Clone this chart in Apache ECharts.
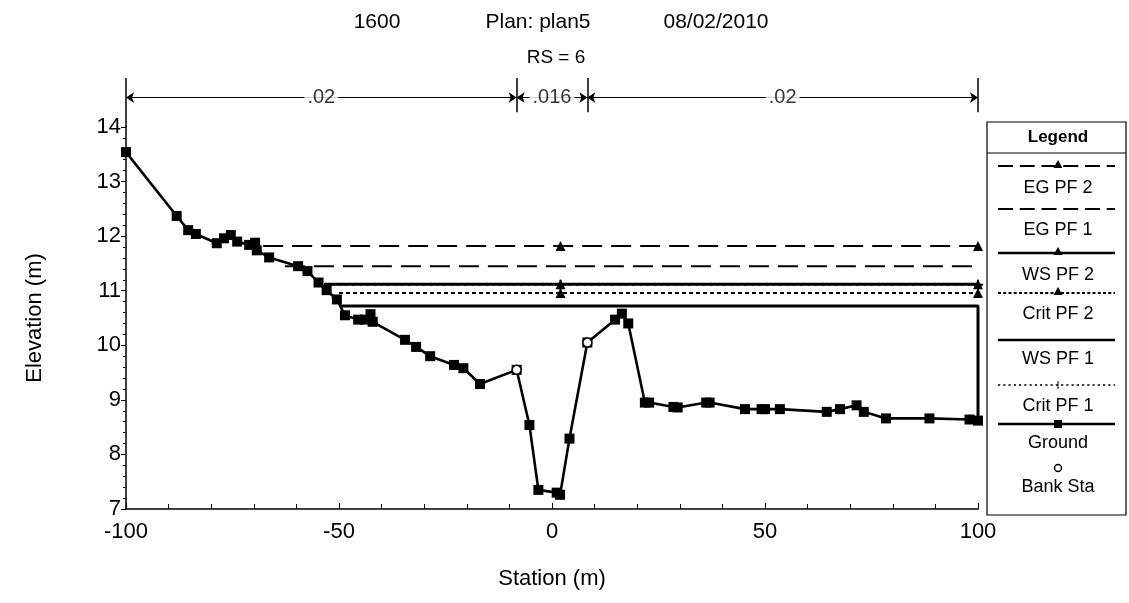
<!DOCTYPE html>
<html><head><meta charset="utf-8">
<script src="https://cdn.jsdelivr.net/npm/echarts@6/dist/echarts.min.js"></script>
<style>html,body{margin:0;padding:0;background:#fff}#c{width:1129px;height:603px}</style>
</head><body><div id="c"></div>
<script>
// ---- data ----
const groundStation = [-100, -88.1, -85.4, -83.6, -78.7, -77.0, -75.4, -73.9, -71.1, -69.7, -69.3, -66.4, -59.6, -57.4, -54.8, -52.9, -50.5, -48.6, -45.5, -43.9, -42.6, -42.1, -34.5, -31.9, -28.6, -23.0, -20.8, -16.9, -8.3, -5.3, -3.2, 1.1, 1.9, 4.1, 8.3, 14.8, 16.4, 17.9, 21.8, 22.8, 28.5, 29.5, 36.2, 37.0, 45.3, 49.2, 50.0, 53.5, 64.5, 67.6, 71.5, 73.2, 78.4, 88.6, 98.0, 100];
const groundElev    = [13.54, 12.37, 12.11, 12.04, 11.87, 11.96, 12.02, 11.90, 11.84, 11.88, 11.74, 11.61, 11.45, 11.36, 11.15, 11.01, 10.84, 10.55, 10.47, 10.47, 10.57, 10.43, 10.10, 9.97, 9.80, 9.64, 9.58, 9.29, 9.55, 8.54, 7.35, 7.30, 7.26, 8.29, 10.05, 10.47, 10.58, 10.40, 8.95, 8.95, 8.87, 8.86, 8.95, 8.95, 8.83, 8.83, 8.83, 8.83, 8.78, 8.83, 8.90, 8.78, 8.66, 8.66, 8.64, 8.62];
const bankStation = [-8.3, 8.3];
const bankElev = [9.55, 10.05];
const profileNames = ['EG PF 2', 'EG PF 1', 'WS PF 2', 'Crit PF 2', 'WS PF 1', 'Crit PF 1'];
const profileElev  = [11.82, 11.45, 11.12, 10.96, 10.72, 11.11];
const profileStart = [-67.8, -62.7, -53.5, -50.0, -49.6, -53.5];
const markerStations = [2, 100];
const nBreaks = [-100, -8.3, 8.3, 100];
const nValues = ['.02', '.016', '.02'];
const xTicks = [-100, -50, 0, 50, 100];
const yTicks = [7, 8, 9, 10, 11, 12, 13, 14];
const titleParts = ['1600', 'Plan: plan5', '08/02/2010'];
const subTitle = 'RS = 6';
const xName = 'Station (m)';
const yName = 'Elevation (m)';

// ---- styles ----
const FONT = "'Liberation Sans', Arial, sans-serif";
const plusPath = 'path://M4,0H6V4H10V6H6V10H4V6H0V4H4Z';
const profStyle = {
  'EG PF 2':  {type: [20, 9], width: 2, sym: 'triangle'},
  'EG PF 1':  {type: [20, 9], width: 2, sym: 'none'},
  'WS PF 2':  {type: 'solid', width: 3, sym: 'triangle'},
  'Crit PF 2':{type: [4, 3], width: 2, sym: 'triangle'},
  'WS PF 1':  {type: 'solid', width: 3, sym: 'none'},
  'Crit PF 1':{type: [3, 4], width: 1.5, sym: plusPath}
};
const zOrder = {'EG PF 2': 3, 'EG PF 1': 3, 'WS PF 2': 4, 'Crit PF 2': 3, 'WS PF 1': 4, 'Crit PF 1': 2};

const chart = echarts.init(document.getElementById('c'));
const series = [];

profileNames.forEach((name, i) => {
  const st = profStyle[name];
  const e = profileElev[i];
  const data = [{value: [profileStart[i], e], symbol: 'none'}];
  markerStations.forEach(s => data.push({value: [s, e], symbol: st.sym}));
  if (name === 'WS PF 1') {
    data.push({value: [groundStation[groundStation.length - 1], groundElev[groundElev.length - 1]], symbol: 'none'});
  }
  series.push({
    name, type: 'line', data, symbolSize: 10, showAllSymbol: true,
    lineStyle: {color: '#000', width: st.width, type: st.type},
    itemStyle: {color: '#000'},
    z: zOrder[name], animation: false, silent: true
  });
});

series.push({
  name: 'Ground', type: 'line',
  data: groundStation.map((s, i) => [s, groundElev[i]]),
  symbol: 'rect', symbolSize: 10, showAllSymbol: true,
  lineStyle: {color: '#000', width: 2.6}, itemStyle: {color: '#000'},
  z: 5, animation: false
});
series.push({
  name: 'Bank Sta', type: 'scatter',
  data: bankStation.map((s, i) => [s, bankElev[i]]),
  symbol: 'circle', symbolSize: 9,
  itemStyle: {color: '#fff', borderColor: '#000', borderWidth: 1.5, opacity: 1},
  z: 6, animation: false
});

// Manning's n bar (second grid, above the plot)
const nLines = nBreaks.map((b, i) => ({coords: [[b, (i === 0 ? 0 : 0.3)], [b, 1]]}));
series.push({
  type: 'lines', coordinateSystem: 'cartesian2d', xAxisIndex: 1, yAxisIndex: 1,
  data: nLines, lineStyle: {color: '#000', width: 1.5, opacity: 1}, symbol: ['none', 'none'], animation: false, z: 2
});
const arrows = [];
for (let i = 0; i < nValues.length; i++) {
  arrows.push({coords: [[nBreaks[i], 0.6], [nBreaks[i + 1], 0.6]]});
}
series.push({
  type: 'lines', coordinateSystem: 'cartesian2d', xAxisIndex: 1, yAxisIndex: 1,
  data: arrows, lineStyle: {color: '#000', width: 1, opacity: 1}, symbol: ['arrow', 'arrow'], symbolSize: 8,
  animation: false, z: 2
});
series.push({
  type: 'scatter', xAxisIndex: 1, yAxisIndex: 1,
  data: nValues.map((v, i) => ({value: [(nBreaks[i] + nBreaks[i + 1]) / 2, 0.6], name: v})),
  symbolSize: 2, itemStyle: {color: 'rgba(255,255,255,0)'},
  label: {show: true, position: 'inside', formatter: p => p.name, color: '#000', fontSize: 20, fontFamily: FONT,
    backgroundColor: '#fff', padding: [1, 3]},
  z: 5, animation: false
});

// legend drawn as graphic
const LX = 987, LY = 122, LW = 139, LH = 393;
const lx1 = 998, lx2 = 1115, lcx = 1058;
const legendRows = [
  {name: 'EG PF 2', ly: 166, ty: 188},
  {name: 'EG PF 1', ly: 209, ty: 230},
  {name: 'WS PF 2', ly: 253, ty: 275},
  {name: 'Crit PF 2', ly: 293, ty: 314},
  {name: 'WS PF 1', ly: 340, ty: 359},
  {name: 'Crit PF 1', ly: 385, ty: 406},
  {name: 'Ground', ly: 424, ty: 443},
  {name: 'Bank Sta', ly: 468, ty: 487}
];
const g = [];
g.push({type: 'rect', shape: {x: LX, y: LY, width: LW, height: LH}, style: {fill: '#fff', stroke: '#000', lineWidth: 1.2}, z: 10});
g.push({type: 'line', shape: {x1: LX, y1: 153, x2: LX + LW, y2: 153}, style: {stroke: '#000', lineWidth: 1}, z: 11});
g.push({type: 'text', x: lcx, y: 137, style: {text: 'Legend', font: 'bold 17px ' + FONT, fill: '#000', align: 'center', verticalAlign: 'middle'}, z: 11});
legendRows.forEach(r => {
  const st = profStyle[r.name];
  if (r.name === 'Bank Sta') {
    g.push({type: 'circle', shape: {cx: lcx, cy: r.ly, r: 3.5}, style: {fill: '#fff', stroke: '#000', lineWidth: 1.5}, z: 11});
  } else {
    const ld = st ? (st.type === 'solid' ? null : st.type.map(v => v * 0.75)) : null;
    g.push({type: 'line', shape: {x1: lx1, y1: r.ly, x2: lx2, y2: r.ly},
      style: {stroke: '#000', lineWidth: st ? Math.min(st.width, 2.5) : 2.5, lineDash: ld}, z: 11});
    const sym = st ? st.sym : 'rect';
    if (sym === 'triangle') {
      g.push({type: 'polygon', shape: {points: [[lcx, r.ly - 6], [lcx - 4.5, r.ly + 2], [lcx + 4.5, r.ly + 2]]}, style: {fill: '#000'}, z: 12});
    } else if (sym === 'rect') {
      g.push({type: 'rect', shape: {x: lcx - 4, y: r.ly - 4, width: 8, height: 8}, style: {fill: '#000'}, z: 12});
    } else if (sym === plusPath) {
      g.push({type: 'line', shape: {x1: lcx, y1: r.ly - 4, x2: lcx, y2: r.ly + 4}, style: {stroke: '#000', lineWidth: 1}, z: 12});
    }
  }
  g.push({type: 'text', x: lcx, y: r.ty, style: {text: r.name, font: '18px ' + FONT, fill: '#000', align: 'center', verticalAlign: 'middle'}, z: 11});
});
// title texts
const titleX = [377, 538, 716];
titleParts.forEach((t, i) => g.push({type: 'text', x: titleX[i], y: 22, style: {text: t, font: '21px ' + FONT, fill: '#000', align: 'center', verticalAlign: 'middle'}}));
g.push({type: 'text', x: 556, y: 58, style: {text: subTitle, font: '19px ' + FONT, fill: '#000', align: 'center', verticalAlign: 'middle'}});

chart.setOption({
  animation: false,
  backgroundColor: '#fff',
  textStyle: {fontFamily: FONT},
  grid: [
    {left: 126, right: 151, top: 127, bottom: 94, containLabel: false},
    {left: 126, right: 151, top: 78, height: 49}
  ],
  xAxis: [{
    type: 'value', min: xTicks[0], max: xTicks[xTicks.length - 1], interval: 50,
    name: xName, nameLocation: 'middle', nameGap: 59,
    nameTextStyle: {color: '#000', fontSize: 22, fontFamily: FONT},
    axisLine: {onZero: false, lineStyle: {color: '#000', width: 1.5}},
    axisTick: {inside: true, length: 6, lineStyle: {color: '#000'}},
    minorTick: {show: true, splitNumber: 5, length: 5, lineStyle: {color: '#000'}},
    axisLabel: {color: '#000', fontSize: 22, fontFamily: FONT, margin: 12},
    splitLine: {show: false}
  }, {
    type: 'value', gridIndex: 1, min: -100, max: 100, show: false
  }],
  yAxis: [{
    type: 'value', min: yTicks[0], max: yTicks[yTicks.length - 1], interval: 1,
    name: yName, nameLocation: 'middle', nameGap: 80, nameRotate: 90,
    nameTextStyle: {color: '#000', fontSize: 22, fontFamily: FONT},
    axisLine: {show: true, onZero: false, lineStyle: {color: '#000', width: 1.5}},
    axisTick: {inside: false, length: 5, lineStyle: {color: '#000'}},
    minorTick: {show: true, splitNumber: 5, length: 3, lineStyle: {color: '#000'}},
    axisLabel: {color: '#000', fontSize: 22, fontFamily: FONT, margin: 5,
      formatter: v => (yTicks.indexOf(v) >= 0 ? String(v) : '')},
    splitLine: {show: false}
  }, {
    type: 'value', gridIndex: 1, min: 0, max: 1, show: false
  }],
  graphic: g,
  series
});
</script>
</body></html>
